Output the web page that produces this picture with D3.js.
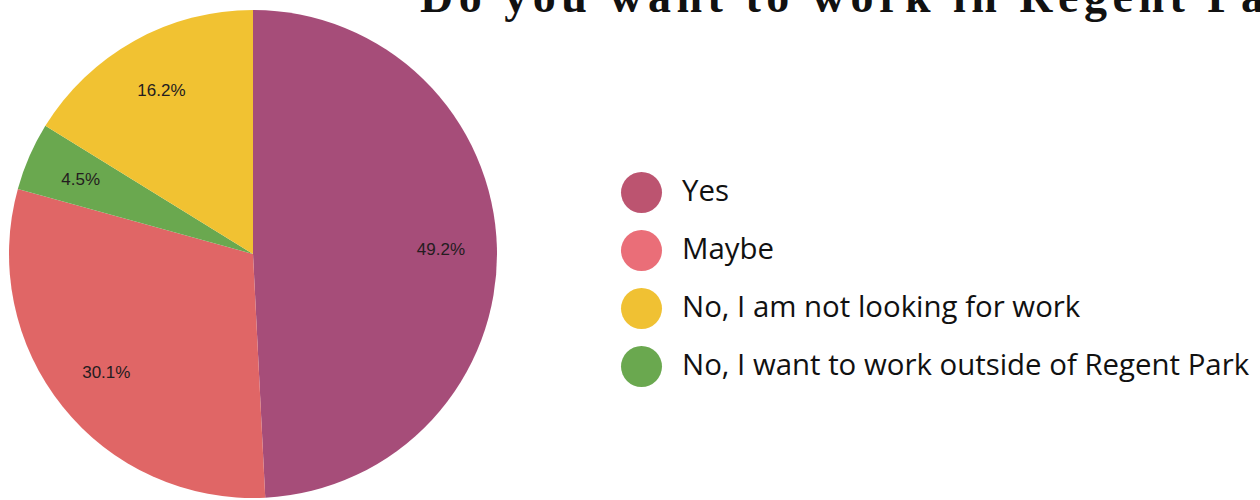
<!DOCTYPE html>
<html>
<head>
<meta charset="utf-8">
<script src="https://cdn.jsdelivr.net/npm/d3@7"></script>
<style>
  html, body { margin: 0; padding: 0; background: #fff; }
  svg { display: block; }
</style>
</head>
<body>
<svg id="chart" width="1260" height="500"></svg>
<script>
// Survey answers, in drawing order (clockwise from 12 o'clock)
const categories = ["Yes", "Maybe", "No, I want to work outside of Regent Park", "No, I am not looking for work"];
const shares = [49.2, 30.1, 4.5, 16.2];
const sliceColors = ["#a64d79", "#e06666", "#6aa84f", "#f1c232"];

// Legend entries, in listed order
const legendLabels = ["Yes", "Maybe", "No, I am not looking for work", "No, I want to work outside of Regent Park"];
const legendColors = ["#bc5470", "#ea6e78", "#f0c133", "#6aa84f"];

const title = "Do you want to work in Regent Park?";

const svg = d3.select("#chart");

// ---- Pie ----
const cx = 253, cy = 254, radius = 244, labelRadius = 188;

const pie = d3.pie().sort(null).value(d => d.value);
const arcs = pie(categories.map((c, i) => ({ name: c, value: shares[i], color: sliceColors[i] })));

const arc = d3.arc().innerRadius(0).outerRadius(radius);
const labelArc = d3.arc().innerRadius(labelRadius).outerRadius(labelRadius);

const g = svg.append("g").attr("transform", `translate(${cx},${cy})`);

g.selectAll("path.slice")
  .data(arcs)
  .join("path")
  .attr("class", "slice")
  .attr("d", arc)
  .attr("fill", d => d.data.color);

g.selectAll("text.pct")
  .data(arcs)
  .join("text")
  .attr("class", "pct")
  .attr("transform", d => `translate(${labelArc.centroid(d)})`)
  .attr("text-anchor", "middle")
  .attr("dy", "0.36em")
  .style("font-family", "'Liberation Sans', Arial, sans-serif")
  .style("font-size", "17px")
  .style("fill", "#241c20")
  .text(d => d.data.value.toFixed(1) + "%");

// ---- Legend ----
const legendY = d3.scalePoint()
  .domain(legendLabels)
  .range([192.5, 366.5]);

const legend = svg.append("g");
const items = legend.selectAll("g.item")
  .data(legendLabels)
  .join("g")
  .attr("class", "item")
  .attr("transform", d => `translate(0,${legendY(d)})`);

items.append("circle")
  .attr("cx", 641.5)
  .attr("cy", 0)
  .attr("r", 20.5)
  .attr("fill", (d, i) => legendColors[i]);

items.append("text")
  .attr("x", 682)
  .attr("y", 8.5)
  .style("font-family", "'Open Sans', sans-serif")
  .style("font-size", "29.4px")
  .style("fill", "#111")
  .text(d => d);

// ---- Title (runs off the top edge) ----
svg.append("text")
  .attr("x", 420)
  .attr("y", 12)
  .style("font-family", "'Liberation Serif', 'Times New Roman', serif")
  .style("font-weight", "bold")
  .style("font-size", "46px")
  .style("letter-spacing", "5.5px")
  .style("fill", "#111")
  .text(title);
</script>
</body>
</html>
